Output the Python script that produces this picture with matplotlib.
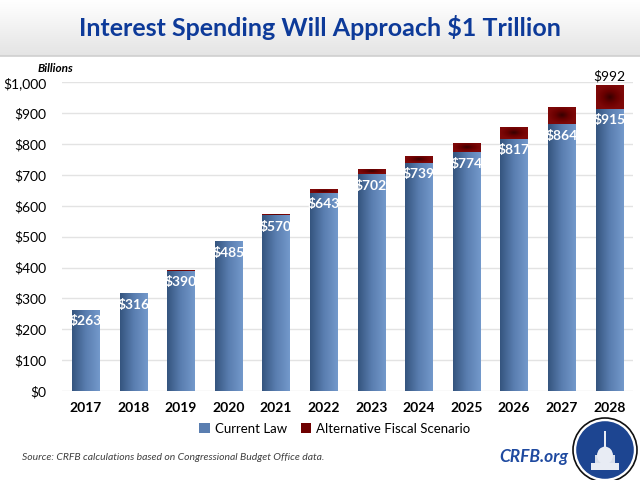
import matplotlib.pyplot as plt
import numpy as np
from matplotlib.patches import Ellipse, Rectangle
from matplotlib.colors import LinearSegmentedColormap

years = ['2017', '2018', '2019', '2020', '2021', '2022',
         '2023', '2024', '2025', '2026', '2027', '2028']
current_law = [263, 316, 390, 485, 570, 643, 702, 739, 774, 817, 864, 915]
alt_total = [263, 317, 392, 486, 574, 654, 720, 762, 804, 856, 920, 992]
alt_extra = [a - c for a, c in zip(alt_total, current_law)]

plt.rcParams['font.family'] = ['Lato', 'DejaVu Sans']

fig = plt.figure(figsize=(6.4, 4.8), dpi=100)

# title band with soft grey gradient
band = fig.add_axes([0, 1 - 56 / 480, 1, 56 / 480])
grad = np.linspace(0, 1, 100).reshape(-1, 1)
band.imshow(grad, aspect='auto', cmap=LinearSegmentedColormap.from_list('g', ['#e4e4e4', '#ffffff']),
            extent=[0, 1, 0, 1], origin='lower')
band.axis('off')
fig.add_artist(plt.Line2D([0, 1], [1 - 56 / 480] * 2, color='#cfcfcf', lw=1.2))
fig.text(0.5, 1 - 28 / 480, 'Interest Spending Will Approach $1 Trillion',
         ha='center', va='center', fontsize=18, fontweight='bold', color='#0d3a99')

ax = fig.add_axes([61.7 / 640, 1 - 391 / 480, (633 - 61.7) / 640, (391 - 82.3) / 480])
x = np.arange(len(years))
w = 0.57
blue_bars = ax.bar(x, current_law, width=w, color='#5577a8', zorder=3)
red_bars = ax.bar(x, alt_extra, width=w, bottom=current_law, color='#6e0000', zorder=3)

ax.set_xlim(-0.5, len(years) - 0.5)
ax.set_ylim(0, 1000)
ax.set_autoscale_on(False)

blue_cmap = LinearSegmentedColormap.from_list('b', ['#35557f', '#5a7eb0', '#7399cb'])
for bar in blue_bars:
    bx, by, bw, bh = bar.get_x(), bar.get_y(), bar.get_width(), bar.get_height()
    im = ax.imshow(np.linspace(0, 1, 50).reshape(1, -1), cmap=blue_cmap, aspect='auto',
                   extent=[bx, bx + bw, by, by + bh], zorder=3.5)
    im.set_clip_path(bar)

red_cmap = LinearSegmentedColormap.from_list('r', ['#3a0000', '#6a0000', '#7e0808'])
gx, gy = np.meshgrid(np.linspace(-1, 1, 40), np.linspace(-1, 1, 40))
radial = np.clip(np.sqrt(gx ** 2 + gy ** 2), 0, 1)
for bar in red_bars:
    if bar.get_height() <= 0:
        continue
    bx, by, bw, bh = bar.get_x(), bar.get_y(), bar.get_width(), bar.get_height()
    im = ax.imshow(radial, cmap=red_cmap, aspect='auto',
                   extent=[bx, bx + bw, by, by + bh], zorder=3.5)
    im.set_clip_path(bar)

for xi, v in zip(x, current_law):
    ax.text(xi, v - 18, f'${v}', ha='center', va='top', color='white',
            fontsize=10, fontweight='bold', zorder=5)
ax.text(x[-1], alt_total[-1] + 6, f'${alt_total[-1]}', ha='center', va='bottom',
        fontsize=10, color='black', zorder=5, clip_on=False)

ax.set_yticks(range(0, 1001, 100))
ax.set_yticklabels(['$0', '$100', '$200', '$300', '$400', '$500', '$600',
                    '$700', '$800', '$900', '$1,000'])
ax.set_xticks(x)
ax.set_xticklabels(years, fontweight='bold')
ax.tick_params(axis='both', length=0, colors='#000000')
ax.tick_params(axis='x', pad=8, labelsize=10)
ax.tick_params(axis='y', pad=11, labelsize=10)
ax.grid(axis='y', color='#e3e3e3', lw=1, zorder=0)
for s in ax.spines.values():
    s.set_visible(False)

fig.text(55 / 640, 1 - 68 / 480, 'Billions', ha='center', va='center',
         fontsize=8.5, fontstyle='italic', fontweight='bold')

h1 = Rectangle((0, 0), 1, 1, facecolor='#5a7eb0')
h2 = Rectangle((0, 0), 1, 1, facecolor='#6e0000')
fig.legend([h1, h2], ['Current Law', 'Alternative Fiscal Scenario'], loc='center',
           bbox_to_anchor=(335 / 640, 1 - 429 / 480), ncol=2, frameon=False,
           fontsize=9.5, handlelength=0.8, handleheight=0.8, handletextpad=0.4,
           columnspacing=1.0)

fig.text(22 / 640, 1 - 458 / 480, 'Source: CRFB calculations based on Congressional Budget Office data.',
         ha='left', va='center', fontsize=7.5, fontstyle='italic', color='#404040')
fig.text(568 / 640, 1 - 457 / 480, 'CRFB.org', ha='right', va='center', fontsize=12.5,
         fontstyle='italic', fontweight='bold', color='#1f4aa0')

# logo
cx, cy = 605 / 640, 1 - 450 / 480
rx, ry = 32 / 640, 32 / 480
fig.add_artist(Ellipse((cx, cy), 2 * rx, 2 * ry, facecolor='white', edgecolor='#101010', lw=1.2))
fig.add_artist(Ellipse((cx, cy), 1.8 * rx, 1.8 * ry, facecolor='#1d4591', edgecolor='none'))
fig.add_artist(Rectangle((cx - 0.45 * rx, cy - 0.62 * ry), 0.9 * rx, 0.22 * ry,
                         facecolor='#e8ecf4', edgecolor='none'))
fig.add_artist(Rectangle((cx - 0.3 * rx, cy - 0.42 * ry), 0.6 * rx, 0.25 * ry,
                         facecolor='#d8deea', edgecolor='none'))
fig.add_artist(Ellipse((cx, cy - 0.17 * ry), 0.5 * rx, 0.55 * ry, facecolor='#e8ecf4',
                       edgecolor='none'))
fig.add_artist(Rectangle((cx - 0.025 * rx, cy + 0.1 * ry), 0.05 * rx, 0.5 * ry,
                         facecolor='#e8ecf4', edgecolor='none'))

fig.savefig('out.png', dpi=100)
